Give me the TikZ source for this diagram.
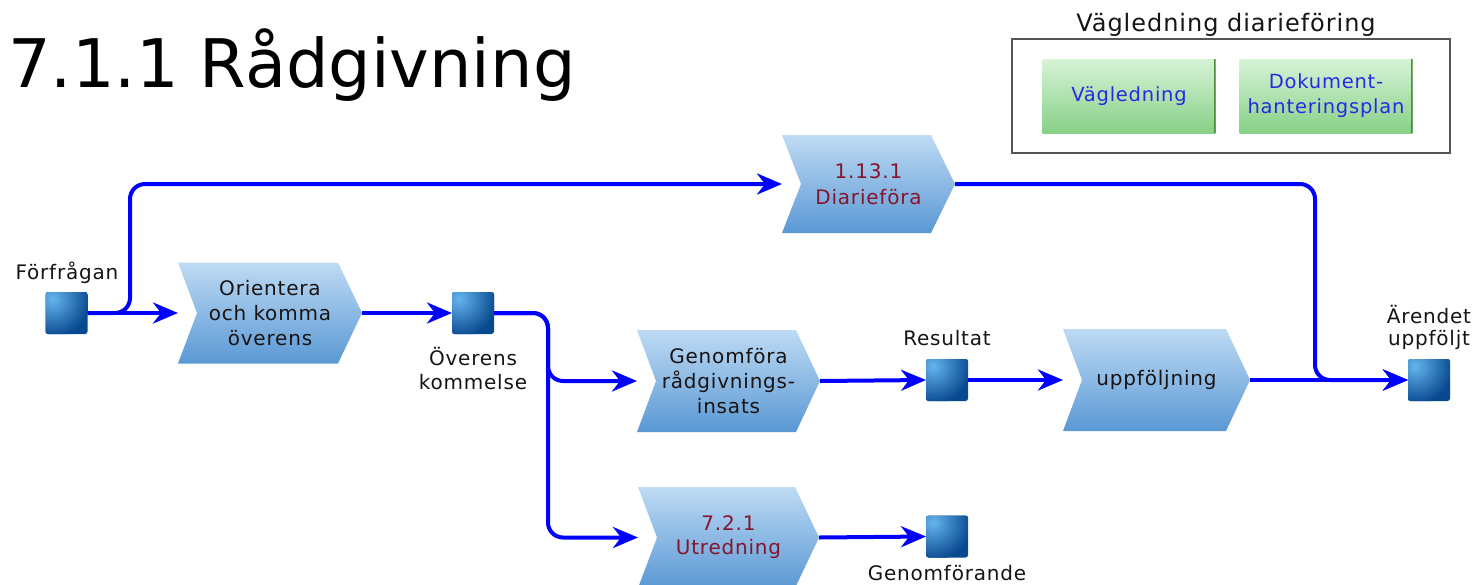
\documentclass[tikz,border=0pt]{standalone}
\usepackage{fontspec}
\setmainfont{DejaVu Sans}[LetterSpace=4]
\newfontfamily\titlefont{DejaVu Sans}
\usetikzlibrary{arrows.meta,calc}
\definecolor{conn}{RGB}{0,0,255}
\definecolor{chevtop}{RGB}{190,219,244}
\definecolor{chevbot}{RGB}{90,152,212}
\definecolor{sqdark}{RGB}{8,72,142}
\definecolor{sqlight}{RGB}{100,180,238}
\definecolor{darkred}{RGB}{135,20,45}
\definecolor{lbltext}{RGB}{25,20,20}
\definecolor{grtop}{RGB}{215,243,215}
\definecolor{grbot}{RGB}{135,208,135}
\definecolor{gredge}{RGB}{80,140,60}
\definecolor{legtext}{RGB}{40,40,230}
\definecolor{legframe}{RGB}{85,85,85}
\tikzset{
  chevron/.style={shape=rectangle, inner sep=0pt, outer sep=0pt, align=center,
    font=\fontsize{20}{25}\selectfont, text=lbltext,
    path picture={\shade[top color=chevtop,bottom color=chevbot]
      (path picture bounding box.north west)
      -- ([xshift=-24pt]path picture bounding box.north east)
      -- (path picture bounding box.east)
      -- ([xshift=-24pt]path picture bounding box.south east)
      -- (path picture bounding box.south west)
      -- ([xshift=19pt]path picture bounding box.west) -- cycle;}},
  redtext/.style={text=darkred},
  sq/.style={shape=rectangle, minimum size=42pt, inner sep=0pt, outer sep=0pt,
    rounded corners=2.5pt, fill=sqdark,
    path picture={\shade[inner color=sqlight, outer color=sqdark]
      ([xshift=7pt,yshift=-7pt]path picture bounding box.north west) circle (38pt);}},
  lbl/.style={font=\fontsize{20}{24}\selectfont, text=lbltext, inner sep=0pt, align=center},
  cn/.style={draw=conn, line width=4pt, rounded corners=15pt,
    -{Stealth[length=25pt,width=21pt,inset=8pt]}},
  greenbox/.style={shape=rectangle, inner sep=0pt, minimum width=173pt, minimum height=74pt,
    top color=grtop, bottom color=grbot, align=center, text=legtext,
    font=\fontsize{19.5}{25}\selectfont,
    path picture={\draw[gredge, line width=3pt]
      (path picture bounding box.north east) -- (path picture bounding box.south east);}},
}
\begin{document}
\begin{tikzpicture}[x=1pt,y=-1pt]
\useasboundingbox[fill=white] (0,0) rectangle (1474,584);

% title
\node[anchor=base west, inner sep=0pt, font=\titlefont\fontsize{67}{80}\selectfont, text=black] (title) at (8,87) {7.1.1 Rådgivning};

% legend
\node[draw=legframe, line width=2.5pt, minimum width=438pt, minimum height=114pt, inner sep=0pt] (legend) at (1231,96) {};
\node[anchor=base, inner sep=0pt, font=\fontsize{24}{28}\selectfont, text=lbltext] (legtitle) at (1226,31) {Vägledning diarieföring};
\node[greenbox] (vagl) at (1129,96) {Vägledning};
\node[greenbox] (dokh) at (1326,96) {Dokument-\\hanteringsplan};

% chevrons
\node[chevron, minimum width=184pt, minimum height=101pt] (ori) at (270,313) {Orientera\\och komma\\överens};
\node[chevron, redtext, minimum width=173pt, minimum height=98pt, font=\fontsize{20}{26}\selectfont] (diar) at (868.5,184) {1.13.1\\Diarieföra};
\node[chevron, minimum width=183pt, minimum height=102pt] (gen) at (728.5,381) {Genomföra\\rådgivnings-\\insats};
\node[chevron, minimum width=187pt, minimum height=102pt] (upp) at (1156.5,380) {uppföljning};
\node[chevron, redtext, minimum width=181pt, minimum height=101pt, font=\fontsize{20}{24}\selectfont] (utr) at (728.5,537.5) {7.2.1\\Utredning};

% events
\node[sq] (forf) at (66.5,313) {};
\node[sq] (over) at (473,313) {};
\node[sq] (res) at (947,380) {};
\node[sq] (aren) at (1429,380) {};
\node[sq] (genf) at (947,536.5) {};

% labels
\node[lbl, anchor=base] (lforf) at (67,279) {Förfrågan};
\node[lbl] (lover) at (473,369) {Överens\\kommelse};
\node[lbl, anchor=base] (lres) at (947,345) {Resultat};
\node[lbl, font=\fontsize{20}{22}\selectfont] (laren) at (1429,327) {Ärendet\\uppföljt};
\node[lbl, anchor=base] (lgenf) at (947,580) {Genomförande};

% branch points
\coordinate (b1) at (130,250);
\coordinate (b2) at (548,350);
\coordinate (b3) at (1315,280);

% connectors
\draw[cn] (forf.east) -- (ori.west);
\draw[cn] (forf.east) -| (b1) |- (diar.west);
\draw[cn] (ori.east) -- (over.west);
\draw[cn] (over.east) -| (b2) |- (gen.west);
\draw[cn] (over.east) -| (b2) |- (utr.west);
\draw[cn] (gen.east) -- (res.west);
\draw[cn] (res.east) -- (upp.west);
\draw[cn] (upp.east) -- (aren.west);
\draw[cn] (diar.east) -| (b3) |- (aren.west);
\draw[cn] (utr.east) -- (genf.west);
\end{tikzpicture}
\end{document}
